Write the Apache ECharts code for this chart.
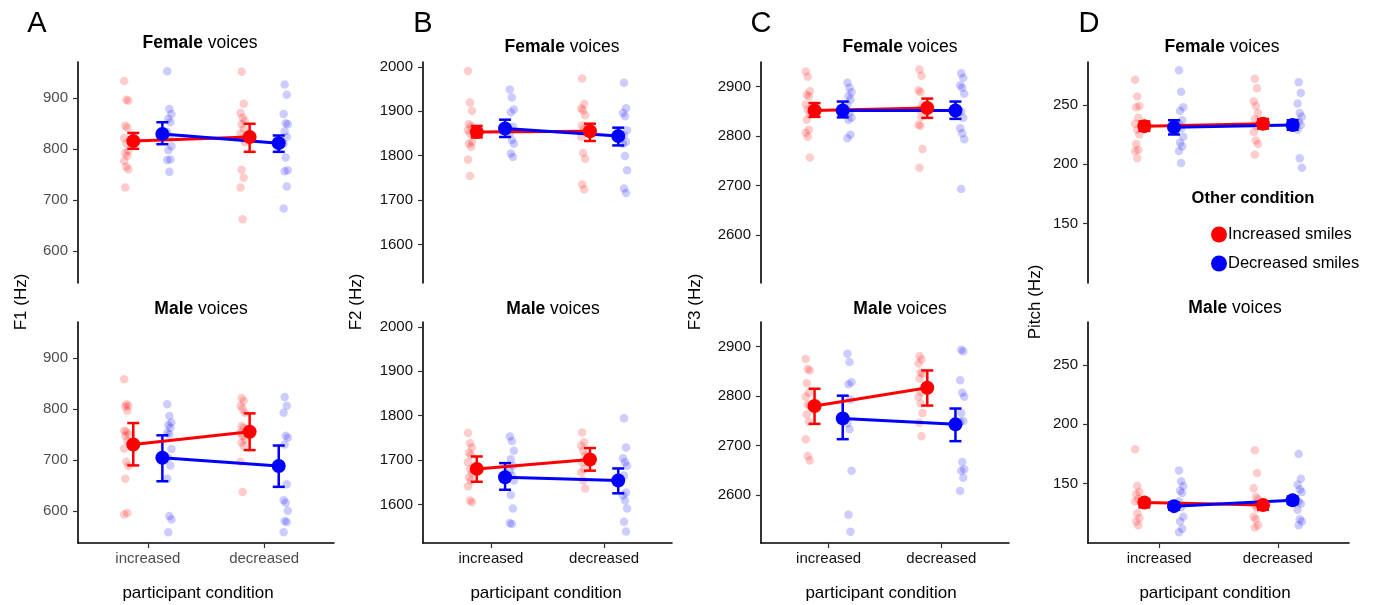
<!DOCTYPE html>
<html><head><meta charset="utf-8">
<script src="https://cdn.jsdelivr.net/npm/echarts@6/dist/echarts.min.js"></script>
<style>html,body{margin:0;padding:0;background:#fff;}#c{width:1376px;height:605px;}</style>
</head><body><div id="c"></div>
<script>
const categories = ['increased', 'decreased'];
const conditionNames = ['Increased smiles', 'Decreased smiles'];
const panelLetters = ['A', 'B', 'C', 'D'];
const yTitles = ['F1 (Hz)', 'F2 (Hz)', 'F3 (Hz)', 'Pitch (Hz)'];
const yTicksF1 = [600, 700, 800, 900];
const yTicksF2 = [1600, 1700, 1800, 1900, 2000];
const yTicksF3 = [2600, 2700, 2800, 2900];
const yTicksPitch = [150, 200, 250];

// ---- F1, female voices ----
const f1FemRedInc = [934, 897, 895, 846, 842, 822, 812, 797, 792, 787, 777, 766, 761, 725];
const f1FemRedDec = [952, 889, 871, 862, 856, 849, 840, 831, 821, 814, 760, 744, 725, 663];
const f1FemBlueInc = [953, 879, 869, 860, 853, 834, 824, 806, 798, 780, 779, 756];
const f1FemBlueDec = [927, 907, 869, 851, 849, 835, 824, 811, 784, 759, 757, 727, 684];
const f1FemRedMean = [816, 824], f1FemRedLow = [801, 795], f1FemRedHigh = [832, 850];
const f1FemBlueMean = [830, 812], f1FemBlueLow = [810, 795], f1FemBlueHigh = [853, 827];
// ---- F1, male voices ----
const f1MalRedInc = [859, 810, 807, 805, 797, 758, 756, 751, 748, 738, 723, 697, 689, 664, 597, 594];
const f1MalRedDec = [822, 816, 807, 801, 793, 767, 764, 754, 748, 741, 735, 728, 697, 638];
const f1MalBlueInc = [810, 787, 774, 769, 764, 754, 751, 722, 705, 690, 664, 591, 584, 559];
const f1MalBlueDec = [824, 807, 793, 748, 744, 731, 653, 622, 617, 601, 581, 579, 559];
const f1MalRedMean = [731, 756], f1MalRedLow = [690, 720], f1MalRedHigh = [773, 792];
const f1MalBlueMean = [705, 689], f1MalBlueLow = [659, 648], f1MalBlueHigh = [749, 729];
// ---- F2, female voices ----
const f2FemRedInc = [1991, 1920, 1901, 1871, 1866, 1857, 1850, 1831, 1827, 1820, 1791, 1754];
const f2FemRedDec = [1974, 1917, 1906, 1902, 1891, 1868, 1861, 1842, 1806, 1793, 1735, 1724];
const f2FemBlueInc = [1949, 1931, 1904, 1898, 1865, 1851, 1835, 1827, 1805, 1797];
const f2FemBlueDec = [1964, 1907, 1896, 1889, 1857, 1846, 1831, 1827, 1799, 1767, 1726, 1716];
const f2FemRedMean = [1853, 1855], f2FemRedLow = [1841, 1833], f2FemRedHigh = [1867, 1872];
const f2FemBlueMean = [1861, 1844], f2FemBlueLow = [1842, 1823], f2FemBlueHigh = [1881, 1863];
// ---- F2, male voices ----
const f2MalRedInc = [1761, 1738, 1728, 1717, 1711, 1695, 1680, 1671, 1661, 1654, 1641, 1609, 1605];
const f2MalRedDec = [1762, 1740, 1732, 1721, 1710, 1695, 1680, 1672, 1654, 1636];
const f2MalBlueInc = [1753, 1743, 1721, 1702, 1687, 1676, 1665, 1654, 1621, 1591, 1558, 1556];
const f2MalBlueDec = [1794, 1728, 1704, 1695, 1687, 1665, 1627, 1620, 1609, 1591, 1561, 1539];
const f2MalRedMean = [1680, 1701], f2MalRedLow = [1651, 1676], f2MalRedHigh = [1708, 1727];
const f2MalBlueMean = [1661, 1654], f2MalBlueLow = [1633, 1625], f2MalBlueHigh = [1693, 1681];
// ---- F3, female voices ----
const f3FemRedInc = [2931, 2920, 2891, 2884, 2880, 2864, 2854, 2844, 2833, 2813, 2807, 2799, 2757];
const f3FemRedDec = [2935, 2922, 2893, 2889, 2864, 2854, 2839, 2823, 2821, 2774, 2736];
const f3FemBlueInc = [2908, 2898, 2889, 2881, 2874, 2864, 2847, 2837, 2833, 2803, 2796];
const f3FemBlueDec = [2927, 2918, 2903, 2898, 2886, 2850, 2837, 2816, 2806, 2794, 2693];
const f3FemRedMean = [2852, 2857], f3FemRedLow = [2839, 2837], f3FemRedHigh = [2867, 2876];
const f3FemBlueMean = [2852, 2852], f3FemBlueLow = [2838, 2835], f3FemBlueHigh = [2870, 2870];
// ---- F3, male voices ----
const f3MalRedInc = [2875, 2855, 2852, 2826, 2807, 2799, 2783, 2781, 2763, 2748, 2713, 2679, 2670];
const f3MalRedDec = [2881, 2874, 2866, 2848, 2846, 2835, 2808, 2799, 2785, 2766, 2746, 2719];
const f3MalBlueInc = [2886, 2869, 2828, 2824, 2793, 2745, 2733, 2649, 2560, 2526];
const f3MalBlueDec = [2894, 2891, 2832, 2807, 2799, 2766, 2750, 2748, 2667, 2652, 2649, 2635, 2608];
const f3MalRedMean = [2780, 2817], f3MalRedLow = [2744, 2781], f3MalRedHigh = [2815, 2852];
const f3MalBlueMean = [2755, 2743], f3MalBlueLow = [2713, 2709], f3MalBlueHigh = [2801, 2775];
// ---- Pitch, female voices ----
const piFemRedInc = [271, 257, 249, 248, 239, 234, 229, 225, 217, 212, 211, 205];
const piFemRedDec = [272, 264, 253, 249, 243, 238, 232, 227, 220, 217, 208];
const piFemBlueInc = [279, 261, 248, 245, 237, 234, 230, 223, 218, 215, 211, 201];
const piFemBlueDec = [269, 260, 251, 243, 240, 236, 233, 229, 205, 197];
const piFemRedMean = [232, 234], piFemRedLow = [228, 230], piFemRedHigh = [236, 238];
const piFemBlueMean = [231, 233], piFemBlueLow = [225, 229], piFemBlueHigh = [237, 237];
// ---- Pitch, male voices ----
const piMalRedInc = [179, 148, 143, 141, 137, 135, 125, 121, 118, 115];
const piMalRedDec = [178, 159, 146, 139, 137, 132, 129, 122, 120, 115, 113];
const piMalBlueInc = [161, 152, 148, 144, 142, 135, 130, 122, 118, 112, 109];
const piMalBlueDec = [175, 154, 149, 145, 143, 135, 133, 128, 120, 118, 115];
const piMalRedMean = [134, 132], piMalRedLow = [130, 128], piMalRedHigh = [137, 135];
const piMalBlueMean = [131, 136], piMalBlueLow = [128, 133], piMalBlueHigh = [134, 139];

const panels = [
  {col:0,row:0,ri:f1FemRedInc,rd:f1FemRedDec,bi:f1FemBlueInc,bd:f1FemBlueDec,rm:f1FemRedMean,rl:f1FemRedLow,rh:f1FemRedHigh,bm:f1FemBlueMean,bl:f1FemBlueLow,bh:f1FemBlueHigh},
  {col:1,row:0,ri:f2FemRedInc,rd:f2FemRedDec,bi:f2FemBlueInc,bd:f2FemBlueDec,rm:f2FemRedMean,rl:f2FemRedLow,rh:f2FemRedHigh,bm:f2FemBlueMean,bl:f2FemBlueLow,bh:f2FemBlueHigh},
  {col:2,row:0,ri:f3FemRedInc,rd:f3FemRedDec,bi:f3FemBlueInc,bd:f3FemBlueDec,rm:f3FemRedMean,rl:f3FemRedLow,rh:f3FemRedHigh,bm:f3FemBlueMean,bl:f3FemBlueLow,bh:f3FemBlueHigh},
  {col:3,row:0,ri:piFemRedInc,rd:piFemRedDec,bi:piFemBlueInc,bd:piFemBlueDec,rm:piFemRedMean,rl:piFemRedLow,rh:piFemRedHigh,bm:piFemBlueMean,bl:piFemBlueLow,bh:piFemBlueHigh},
  {col:0,row:1,ri:f1MalRedInc,rd:f1MalRedDec,bi:f1MalBlueInc,bd:f1MalBlueDec,rm:f1MalRedMean,rl:f1MalRedLow,rh:f1MalRedHigh,bm:f1MalBlueMean,bl:f1MalBlueLow,bh:f1MalBlueHigh},
  {col:1,row:1,ri:f2MalRedInc,rd:f2MalRedDec,bi:f2MalBlueInc,bd:f2MalBlueDec,rm:f2MalRedMean,rl:f2MalRedLow,rh:f2MalRedHigh,bm:f2MalBlueMean,bl:f2MalBlueLow,bh:f2MalBlueHigh},
  {col:2,row:1,ri:f3MalRedInc,rd:f3MalRedDec,bi:f3MalBlueInc,bd:f3MalBlueDec,rm:f3MalRedMean,rl:f3MalRedLow,rh:f3MalRedHigh,bm:f3MalBlueMean,bl:f3MalBlueLow,bh:f3MalBlueHigh},
  {col:3,row:1,ri:piMalRedInc,rd:piMalRedDec,bi:piMalBlueInc,bd:piMalBlueDec,rm:piMalRedMean,rl:piMalRedLow,rh:piMalRedHigh,bm:piMalBlueMean,bl:piMalBlueLow,bh:piMalBlueHigh}
];

const FONT = "'Liberation Sans', Arial, Helvetica, sans-serif";
const RED = '#FF0000', BLUE = '#0000FF';
const cols = [
  {left:78, width:256, min:538, max:971, ticks:yTicksF1, color:'#4d4d4d', xTitle:198, sub:[200,201], subY:[43,309], yTitleX:21, letterX:37},
  {left:423, width:249, min:1513, max:2011, ticks:yTicksF2, color:'#111', xTitle:546, sub:[562,553], subY:[47,309], yTitleX:356, letterX:423},
  {left:761, width:248, min:2503, max:2950, ticks:yTicksF3, color:'#111', xTitle:881, sub:[900,900], subY:[47,309], yTitleX:695, letterX:761},
  {left:1088, width:261, min:100, max:286, ticks:yTicksPitch, color:'#111', xTitle:1215, sub:[1222,1235], subY:[47,308], yTitleX:1035, letterX:1089}
];
const rows = [{top:62, height:221}, {top:322, height:221}];

const DODGE_MEAN = 0.125, DODGE_PTS = 0.185;
const jit = i => ((((i * 7) % 5) - 2) * 0.009);

function errItem(params, api) {
  const x = api.value(0);
  const pLo = api.coord([x, api.value(1)]);
  const pHi = api.coord([x, api.value(2)]);
  const hw = 6;
  const style = {stroke: api.visual('color'), lineWidth: 2.5, fill: null};
  return {type:'group', children:[
    {type:'line', shape:{x1:pLo[0], y1:pLo[1], x2:pHi[0], y2:pHi[1]}, style},
    {type:'line', shape:{x1:pLo[0]-hw, y1:pLo[1], x2:pLo[0]+hw, y2:pLo[1]}, style},
    {type:'line', shape:{x1:pHi[0]-hw, y1:pHi[1], x2:pHi[0]+hw, y2:pHi[1]}, style}
  ]};
}

const grid = [], xAxis = [], yAxis = [], series = [];
panels.forEach((p, g) => {
  const c = cols[p.col], r = rows[p.row];
  grid.push({left:c.left, top:r.top, width:c.width, height:r.height, containLabel:false});
  const bottom = p.row === 1;
  xAxis.push({
    type:'value', gridIndex:g, min:0.4, max:2.6, show:bottom,
    splitLine:{show:false},
    axisLine:{show:true, onZero:false, lineStyle:{color:'#000', width:1.6}},
    axisTick:{show:true, length:5, customValues:[1,2], lineStyle:{color:'#333', width:1.2}},
    axisLabel:{customValues:[1,2], margin:8, fontSize:15, fontFamily:FONT, color:c.color,
      formatter: v => categories[Math.round(v) - 1]}
  });
  yAxis.push({
    type:'value', gridIndex:g, min:c.min, max:c.max,
    splitLine:{show:false},
    axisLine:{show:true, onZero:false, lineStyle:{color:'#000', width:1.6}},
    axisTick:{show:true, length:5, customValues:c.ticks, lineStyle:{color:'#333', width:1.2}},
    axisLabel:{customValues:c.ticks, margin:10, fontSize:15, fontFamily:FONT, color:c.color,
      formatter: v => String(Math.round(v))}
  });
  const groups = [
    {color:RED, name:conditionNames[0], inc:p.ri, dec:p.rd, mean:p.rm, lo:p.rl, hi:p.rh, sgn:-1},
    {color:BLUE, name:conditionNames[1], inc:p.bi, dec:p.bd, mean:p.bm, lo:p.bl, hi:p.bh, sgn:1}
  ];
  groups.forEach(gr => {
    const pts = [];
    gr.inc.forEach((v, i) => pts.push([1 + gr.sgn * DODGE_PTS + jit(i), v]));
    gr.dec.forEach((v, i) => pts.push([2 + gr.sgn * DODGE_PTS + jit(i + 3), v]));
    series.push({type:'scatter', name:gr.name + ' points', xAxisIndex:g, yAxisIndex:g, z:1,
      symbol:'circle', symbolSize:8.5, silent:true, data:pts,
      itemStyle:{color:gr.color, opacity:0.2}});
  });
  groups.forEach(gr => {
    series.push({type:'custom', name:gr.name + ' error', xAxisIndex:g, yAxisIndex:g, z:2, silent:true,
      renderItem: errItem, encode:{x:0, y:[1,2]},
      itemStyle:{color:gr.color},
      data:[0,1].map(k => [k + 1 + gr.sgn * DODGE_MEAN, gr.lo[k], gr.hi[k]])});
  });
  groups.forEach(gr => {
    series.push({type:'line', name:gr.name + ' line', xAxisIndex:g, yAxisIndex:g, z:3, silent:true,
      showSymbol:false, symbol:'none', lineStyle:{color:gr.color, width:3},
      data:[0,1].map(k => [k + 1 + gr.sgn * DODGE_MEAN, gr.mean[k]])});
  });
  groups.forEach(gr => {
    series.push({type:'scatter', name:gr.name, xAxisIndex:g, yAxisIndex:g, z:4, silent:true,
      symbol:'circle', symbolSize:14, itemStyle:{color:gr.color, opacity:1},
      data:[0,1].map(k => [k + 1 + gr.sgn * DODGE_MEAN, gr.mean[k]])});
  });
});

const graphic = [];
cols.forEach((c, i) => {
  graphic.push({type:'text', x:c.letterX, y:24, style:{text:panelLetters[i], fontSize:29, fontFamily:FONT, fill:'#000', align:'center', verticalAlign:'middle'}});
  graphic.push({type:'text', x:c.yTitleX, y:302, rotation:Math.PI/2, style:{text:yTitles[i], fontSize:17, fontFamily:FONT, fill:'#000', align:'center', verticalAlign:'middle'}});
  graphic.push({type:'text', x:c.xTitle, y:593, style:{text:'participant condition', fontSize:17, fontFamily:FONT, fill:'#000', align:'center', verticalAlign:'middle'}});
  ['Female', 'Male'].forEach((w, r) => {
    graphic.push({type:'text', x:c.sub[r], y:c.subY[r], style:{
      text:'{b|' + w + '} voices', fontSize:17.5, fontFamily:FONT, fill:'#000', align:'center', verticalAlign:'middle',
      rich:{b:{fontWeight:'bold', fontSize:17.5, fontFamily:FONT, fill:'#000'}}}});
  });
});
graphic.push({type:'text', x:1253, y:198, style:{text:'Other condition', fontSize:16.5, fontWeight:'bold', fontFamily:FONT, fill:'#000', align:'center', verticalAlign:'middle'}});

const chart = echarts.init(document.getElementById('c'));
chart.setOption({
  animation:false,
  backgroundColor:'#fff',
  grid, xAxis, yAxis, series, graphic,
  legend:{data:conditionNames, orient:'vertical', left:1206, top:221, icon:'circle',
    itemWidth:16, itemHeight:16, itemGap:12, selectedMode:false,
    textStyle:{fontSize:16.5, fontFamily:FONT, color:'#000', lineHeight:17, padding:[0,0,0,-4]}}
});
</script></body></html>
